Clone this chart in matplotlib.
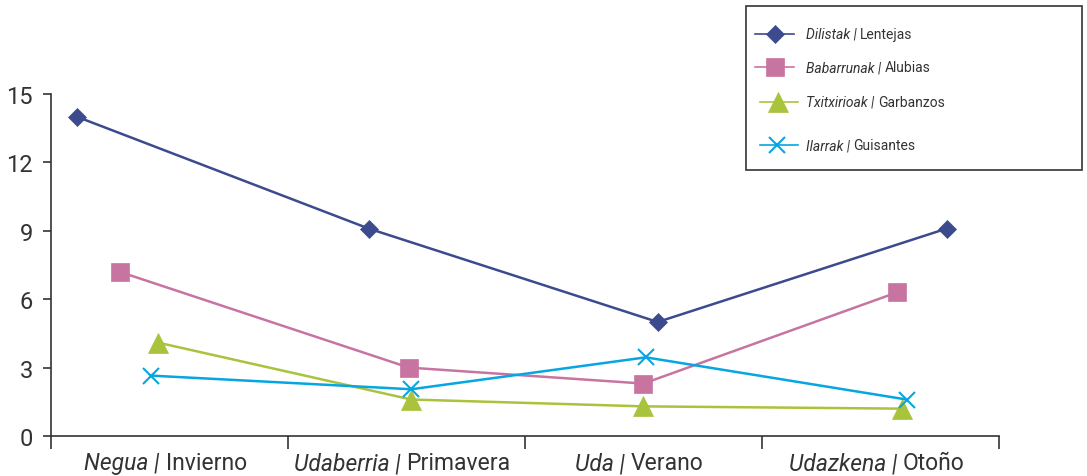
import matplotlib
matplotlib.use("Agg")
import matplotlib.pyplot as plt
from matplotlib.lines import Line2D
from matplotlib.patches import Rectangle

FAM = ['Roboto', 'DejaVu Sans']
plt.rcParams['font.family'] = FAM

# ---- data ----
categories_eu = ["Negua", "Udaberria", "Uda", "Udazkena"]
categories_es = ["Invierno", "Primavera", "Verano", "Otoño"]
yticks = [0, 3, 6, 9, 12, 15]

series_eu = ["Dilistak", "Babarrunak", "Txitxirioak", "Ilarrak"]
series_es = ["Lentejas", "Alubias", "Garbanzos", "Guisantes"]

# x positions along the category axis (category i spans i..i+1)
x_dilistak = [0.11, 1.34, 2.56, 3.78]
y_dilistak = [14.0, 9.1, 5.0, 9.1]
x_babarrunak = [0.29, 1.51, 2.50, 3.57]
y_babarrunak = [7.2, 3.0, 2.3, 6.3]
x_txitxirioak = [0.45, 1.52, 2.50, 3.59]
y_txitxirioak = [4.1, 1.6, 1.3, 1.2]
x_ilarrak = [0.42, 1.52, 2.51, 3.61]
y_ilarrak = [2.65, 2.05, 3.45, 1.6]

colors = ["#3c4a8e", "#c874a0", "#a9c33c", "#06a6e2"]
markers = ["D", "s", "^", "x"]
msizes = [9, 13, 15, 12]

W, H = 1087, 477
fig = plt.figure(figsize=(W / 100, H / 100), dpi=100)
ax = fig.add_axes([51 / W, 1 - 437 / H, (999 - 51) / W, (437 - 95) / H])

xs = [x_dilistak, x_babarrunak, x_txitxirioak, x_ilarrak]
ys = [y_dilistak, y_babarrunak, y_txitxirioak, y_ilarrak]
for x, y, c, m, ms in zip(xs, ys, colors, markers, msizes):
    ax.plot(x, y, color=c, lw=1.8, marker=m, ms=ms, mfc=c, mec=c,
            mew=1.5 if m == "x" else 0.5, clip_on=False)

ax.set_xlim(0, 4)
ax.set_ylim(0, 15)
ax.set_yticks(yticks)
ax.set_yticklabels([str(v) for v in yticks])
ax.set_xticks(range(5))
ax.set_xticklabels([])
for s in ["top", "right"]:
    ax.spines[s].set_visible(False)
for s in ["left", "bottom"]:
    ax.spines[s].set_color("#333333")
    ax.spines[s].set_linewidth(1.2)
ax.tick_params(axis="y", direction="out", length=6, width=1.2, color="#333333",
               labelsize=17, labelcolor="#333333", pad=7)
ax.tick_params(axis="x", direction="out", length=9, width=1.2, color="#333333")

renderer = fig.canvas.get_renderer()


def rich(xpix, ypix, pieces, size, ha="center"):
    """pieces: list of (text, style); positioned in figure pixels (from top)."""
    texts = []
    for t, st in pieces:
        tt = fig.text(0, 0, t, fontsize=size, style=st, color="#333333",
                      family=FAM, va="center", ha="left")
        texts.append(tt)
    widths = [tt.get_window_extent(renderer).width for tt in texts]
    total = sum(widths)
    x0 = xpix - total / 2 if ha == "center" else xpix
    for tt, w in zip(texts, widths):
        tt.set_position((x0 / W, 1 - ypix / H))
        x0 += w


for i, (eu, es) in enumerate(zip(categories_eu, categories_es)):
    cx = 51 + (i + 0.5) * (999 - 51) / 4
    rich(cx - 4, 464, [(eu + " | ", "italic"), (es, "normal")], 16.5)

# legend
fig.add_artist(Rectangle((746 / W, 1 - 171 / H), (1082 - 746) / W, (171 - 7) / H,
                         transform=fig.transFigure, fill=False,
                         edgecolor="#333333", lw=1.2))
rows = [35, 68, 103, 146]
lx = [(755, 794, 775), (755, 794, 775), (760, 798, 778), (760, 798, 777)]
for (a, b, mx), ry, c, m, ms, eu, es in zip(lx, rows, colors, markers, msizes,
                                              series_eu, series_es):
    fig.add_artist(Line2D([a / W, b / W], [1 - ry / H, 1 - ry / H],
                          transform=fig.transFigure, color=c, lw=1.2))
    fig.add_artist(Line2D([mx / W], [1 - ry / H], transform=fig.transFigure,
                          color=c, marker=m, ms=ms, mfc=c, mec=c,
                          mew=1.5 if m == "x" else 0.5, lw=0))
    rich(806, ry, [(eu + " | ", "italic"), (es, "normal")], 10, ha="left")

fig.savefig("out.png", dpi=100)
